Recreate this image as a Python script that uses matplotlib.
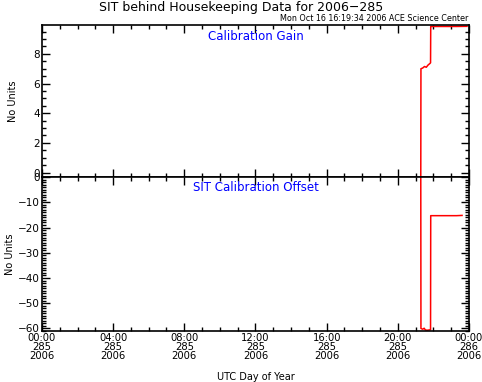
import numpy as np
import matplotlib.pyplot as plt
from matplotlib.ticker import MultipleLocator

# Data (hours of day 285, 2006)
gain_hours = [21.29, 21.30, 21.40, 21.50, 21.60, 21.70, 21.80, 21.84, 21.85, 22.3, 22.8, 23.3, 23.89]
gain_vals = [-1.0, 7.0, 7.05, 7.15, 7.1, 7.25, 7.35, 7.4, 9.85, 9.85, 9.85, 9.85, 9.86]

offset_hours = [21.29, 21.30, 21.40, 21.48, 21.55, 21.65, 21.75, 21.84, 21.85, 22.3, 22.8, 23.3, 23.61]
offset_vals = [5.0, -60.0, -60.3, -59.9, -60.6, -60.7, -60.6, -60.5, -15.3, -15.3, -15.3, -15.3, -15.2]

tick_hours = [0, 4, 8, 12, 16, 20, 24]
tick_labels = ['00:00\n285\n2006', '04:00\n285\n2006', '08:00\n285\n2006',
               '12:00\n285\n2006', '16:00\n285\n2006', '20:00\n285\n2006',
               '00:00\n286\n2006']

plt.rcParams['font.family'] = ['DejaVu Sans']

fig = plt.figure(figsize=(4.82, 3.82), dpi=100)
ax1 = fig.add_axes([0.087, 0.5366, 0.886, 0.398])
ax2 = fig.add_axes([0.087, 0.1335, 0.886, 0.403])


def style(ax):
    ax.set_xlim(0, 24)
    ax.xaxis.set_major_locator(MultipleLocator(4))
    ax.xaxis.set_minor_locator(MultipleLocator(1))
    ax.tick_params(which='both', direction='in', top=True, right=True,
                   labelsize=7.5, width=1, pad=1.5)
    ax.tick_params(axis='x', labelsize=7.2)
    ax.tick_params(which='major', length=6)
    ax.tick_params(which='minor', length=3)
    for s in ax.spines.values():
        s.set_linewidth(1.2)


ax1.plot(gain_hours, gain_vals, color='red', lw=1.1)
style(ax1)
ax1.set_ylim(-0.3, 9.95)
ax1.yaxis.set_major_locator(MultipleLocator(2))
ax1.yaxis.set_minor_locator(MultipleLocator(0.5))
ax1.set_xticklabels([])
ax1.set_ylabel('No Units', fontsize=7)
ax1.yaxis.set_label_coords(-0.056, 0.5)
ax1.text(0.5, 0.97, 'Calibration Gain', transform=ax1.transAxes,
         ha='center', va='top', color='blue', fontsize=8.5)

ax2.plot(offset_hours, offset_vals, color='red', lw=1.1)
style(ax2)
ax2.set_ylim(-61, 0)
ax2.yaxis.set_major_locator(MultipleLocator(10))
ax2.yaxis.set_minor_locator(MultipleLocator(1))
ax2.set_xticks(tick_hours)
ax2.set_xticklabels(tick_labels, linespacing=0.85)
ax2.set_ylabel('No Units', fontsize=7)
ax2.yaxis.set_label_coords(-0.063, 0.5)
ax2.set_xlabel('UTC Day of Year', fontsize=7, labelpad=8)
ax2.text(0.5, 0.975, 'SIT Calibration Offset', transform=ax2.transAxes,
         ha='center', va='top', color='blue', fontsize=8.5)

fig.text(0.5, 0.98, 'SIT behind Housekeeping Data for 2006\u2212285',
         ha='center', va='center', fontsize=9)
fig.text(0.971, 0.941, 'Mon Oct 16 16:19:34 2006 ACE Science Center',
         ha='right', va='bottom', fontsize=5.8)

fig.savefig('out.png', dpi=100)
